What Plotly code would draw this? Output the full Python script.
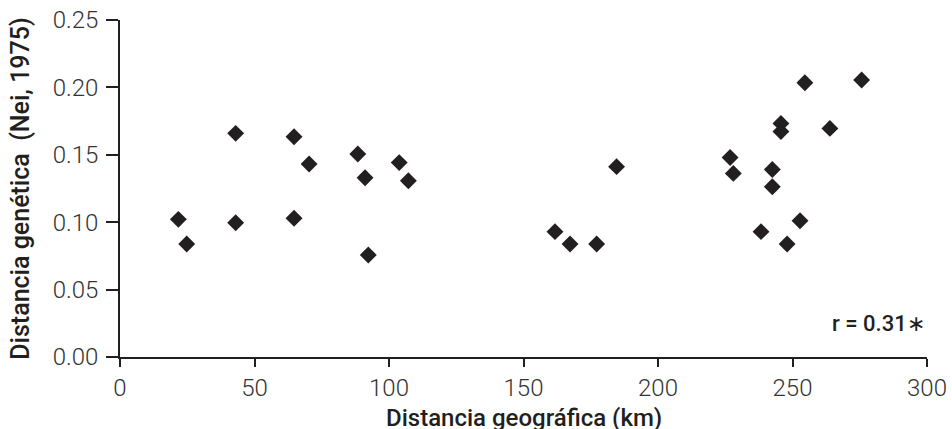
import plotly.graph_objects as go

# Geographic distance (km)
distancia_km = [21.7, 24.8, 43.0, 43.0, 64.7, 64.7, 70.3, 88.4, 91.1, 92.3, 103.8, 107.2,
                161.7, 167.3, 177.2, 184.6,
                226.8, 228.0, 238.3, 242.5, 242.5, 245.7, 245.7, 248.0, 252.8, 254.6, 263.9, 275.7]
# Genetic distance (Nei, 1975)
distancia_genetica = [0.1021, 0.0838, 0.1659, 0.0996, 0.1634, 0.1029, 0.1432, 0.1506, 0.1330, 0.0757, 0.1442, 0.1308,
                      0.0930, 0.0838, 0.0838, 0.1412,
                      0.1480, 0.1362, 0.0930, 0.1391, 0.1263, 0.1733, 0.1672, 0.0838, 0.1011, 0.2035, 0.1696, 0.2055]

x_ticks = [0, 50, 100, 150, 200, 250, 300]
y_ticks = [0.00, 0.05, 0.10, 0.15, 0.20, 0.25]
y_tick_labels = ["0.00", "0.05", "0.10", "0.15", "0.20", "0.25"]

ink = "#231f20"

fig = go.Figure(go.Scatter(
    x=distancia_km, y=distancia_genetica, mode="markers",
    marker=dict(symbol="diamond", size=13, color=ink, line=dict(width=0)),
    showlegend=False, hoverinfo="x+y"))

tick_font = dict(family="Roboto", size=24, color="#333333", weight=300)
title_font = dict(family="Roboto", size=24, color=ink, weight=500)
ytitle_font = dict(family="Roboto", size=25, color=ink, weight=500)

fig.update_layout(
    width=952, height=429,
    margin=dict(l=120, r=25, t=20, b=72, autoexpand=False),
    paper_bgcolor="white", plot_bgcolor="white",
    xaxis=dict(range=[0, 300], tickvals=x_ticks, showgrid=False, zeroline=False,
               showline=True, linecolor=ink, linewidth=1.5,
               ticks="outside", ticklen=8, tickwidth=1.5, tickcolor=ink,
               tickfont=tick_font, ticklabelstandoff=0, automargin=False),
    yaxis=dict(range=[0, 0.25], tickvals=y_ticks, ticktext=y_tick_labels,
               showgrid=False, zeroline=False,
               showline=True, linecolor=ink, linewidth=1.5,
               ticks="outside", ticklen=12, tickwidth=1.5, tickcolor=ink,
               tickfont=tick_font, ticklabelstandoff=3, automargin=False,
               title=dict(text="Distancia genética\u00a0\u00a0(Nei, 1975)", font=ytitle_font, standoff=16)),
    annotations=[
        dict(text="r = 0.31∗", xref="paper", yref="paper", x=1.0, y=0.1,
             xanchor="right", yanchor="middle", showarrow=False,
             font=dict(family="Roboto", size=22, color=ink, weight=500)),
        # x-axis title placed as an annotation so it can sit as low as in the reference
        dict(text="Distancia geográfica (km)", xref="paper", yref="paper", x=0.5, y=0,
             xanchor="center", yanchor="top", yshift=-45, showarrow=False,
             font=title_font),
    ],
)

# remove the browser's default 8px body margin so the figure sits at the page origin
fig.write_html("out.html", config={"displayModeBar": False},
               post_script="document.body.style.margin='0';")
